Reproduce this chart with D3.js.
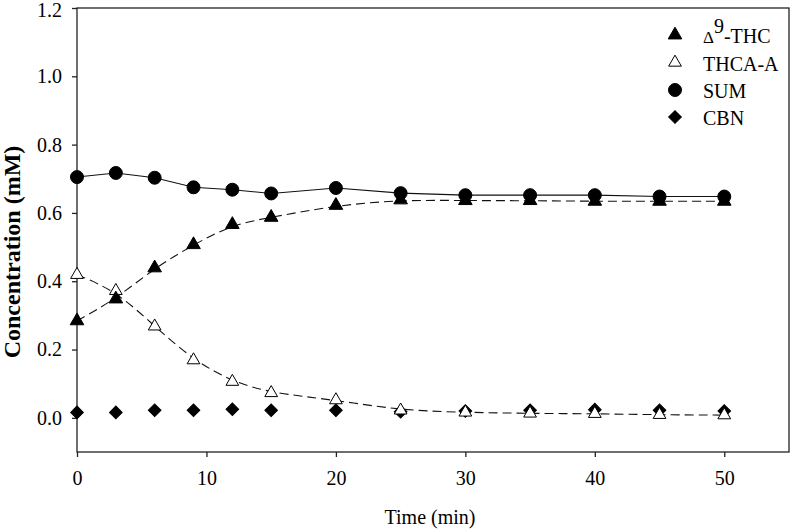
<!DOCTYPE html>
<html>
<head>
<meta charset="utf-8">
<script src="https://cdn.jsdelivr.net/npm/d3@7"></script>
<style>
  body { margin: 0; background: #fff; }
  svg { display: block; }
  text { font-family: "Liberation Serif", "Times New Roman", serif; fill: #000; }
</style>
</head>
<body>
<svg id="chart" width="791" height="532"></svg>
<script>
// ---- data ----
const time = [0, 3, 6, 9, 12, 15, 20, 25, 30, 35, 40, 45, 50];
const thc  = [0.284, 0.348, 0.439, 0.507, 0.566, 0.587, 0.622, 0.638, 0.636, 0.636, 0.634, 0.634, 0.634];
const thca = [0.419, 0.372, 0.268, 0.169, 0.106, 0.073, 0.052, 0.022, 0.016, 0.013, 0.012, 0.009, 0.008];
const sum  = [0.705, 0.717, 0.703, 0.675, 0.668, 0.657, 0.673, 0.658, 0.652, 0.652, 0.652, 0.648, 0.648];
const cbn  = [0.016, 0.016, 0.022, 0.022, 0.025, 0.022, 0.022, 0.018, 0.020, 0.022, 0.024, 0.022, 0.020];
const xTicks = [0, 10, 20, 30, 40, 50];
const yTicks = [0.0, 0.2, 0.4, 0.6, 0.8, 1.0, 1.2];
const xDomain = [0, 55];
const yDomain = [-0.1, 1.2];
const legendNames = ["THC", "THCA-A", "SUM", "CBN"];

(function () {
// ---- layout ----
const svg = d3.select("#chart");
const mL = 77, mR = 789, mT = 8, mB = 452;
const x = d3.scaleLinear().domain(xDomain).range([mL, mR]);
const y = d3.scaleLinear().domain(yDomain).range([mB, mT]);

// frame
svg.append("rect")
  .attr("x", mL).attr("y", mT)
  .attr("width", mR - mL).attr("height", mB - mT)
  .attr("fill", "none").attr("stroke", "#222").attr("stroke-width", 1.3);

// axes
const xAxis = svg.append("g").attr("transform", `translate(0,${mB})`)
  .call(d3.axisBottom(x).tickValues(xTicks).tickSize(5).tickPadding(14).tickFormat(d3.format("d")));
const yAxis = svg.append("g").attr("transform", `translate(${mL},0)`)
  .call(d3.axisLeft(y).tickValues(yTicks).tickSize(5).tickPadding(10).tickFormat(d3.format(".1f")));
[xAxis, yAxis].forEach(g => {
  g.select(".domain").remove();
  g.selectAll(".tick line").attr("stroke", "#222").attr("stroke-width", 1.3);
  g.selectAll(".tick text").style("font-family", '"Liberation Serif", "Times New Roman", serif')
    .style("font-size", "20px").attr("fill", "#000");
});
// keep the top label inside the picture
yAxis.selectAll(".tick text").filter(d => d === 1.2).attr("dy", "0.42em");

// axis titles
svg.append("text").attr("x", 430).attr("y", 524).attr("text-anchor", "middle")
  .style("font-size", "20px").text("Time (min)");
svg.append("text").attr("transform", `translate(20,252) rotate(-90)`)
  .attr("text-anchor", "middle").style("font-size", "24px").style("font-weight", "bold")
  .text("Concentration (mM)");

// lines
const pts = arr => time.map((t, i) => [t, arr[i]]);
const lineStraight = d3.line().x(d => x(d[0])).y(d => y(d[1]));
const lineSmooth = d3.line().x(d => x(d[0])).y(d => y(d[1])).curve(d3.curveBasis);

svg.append("path").attr("d", lineStraight(pts(sum)))
  .attr("fill", "none").attr("stroke", "#111").attr("stroke-width", 1.1);
svg.append("path").attr("d", lineSmooth(pts(thc)))
  .attr("fill", "none").attr("stroke", "#111").attr("stroke-width", 1.1).attr("stroke-dasharray", "9,5");
svg.append("path").attr("d", lineSmooth(pts(thca)))
  .attr("fill", "none").attr("stroke", "#111").attr("stroke-width", 1.1).attr("stroke-dasharray", "9,5");

// markers
const triFilled = d3.symbol().type(d3.symbolTriangle).size(80)();
const triOpen = d3.symbol().type(d3.symbolTriangle).size(70)();
const circ = d3.symbol().type(d3.symbolCircle).size(132)();
const diam = d3.symbol().type(d3.symbolSquare).size(80)();

function drawMarks(arr, pathD, fill, rot) {
  svg.append("g").selectAll("path").data(pts(arr)).join("path")
    .attr("d", pathD)
    .attr("transform", d => `translate(${x(d[0])},${y(d[1])}) rotate(${rot})`)
    .attr("fill", fill).attr("stroke", "#000").attr("stroke-width", 1);
}
drawMarks(cbn, diam, "#000", 45);
drawMarks(thca, triOpen, "#fff", 0);
drawMarks(thc, triFilled, "#000", 0);
drawMarks(sum, circ, "#000", 0);

// legend
const legY = [35, 62.5, 90, 117];
const legSyms = [[triFilled, "#000", 0], [triOpen, "#fff", 0], [circ, "#000", 0], [diam, "#000", 45]];
const lg = svg.append("g");
legendNames.forEach((name, i) => {
  lg.append("path").attr("d", legSyms[i][0])
    .attr("transform", `translate(675,${legY[i]}) rotate(${legSyms[i][2]})`)
    .attr("fill", legSyms[i][1]).attr("stroke", "#000").attr("stroke-width", 1);
  const t = lg.append("text").attr("x", 703).attr("y", legY[i] + 8).style("font-size", "20px");
  if (i === 0) {
    t.append("tspan").style("font-size", "17px").text("Δ");
    t.append("tspan").attr("dy", -10).text("9");
    t.append("tspan").attr("dy", 10).text("-" + name);
  } else {
    t.text(name);
  }
});
})();
</script>
</body>
</html>
